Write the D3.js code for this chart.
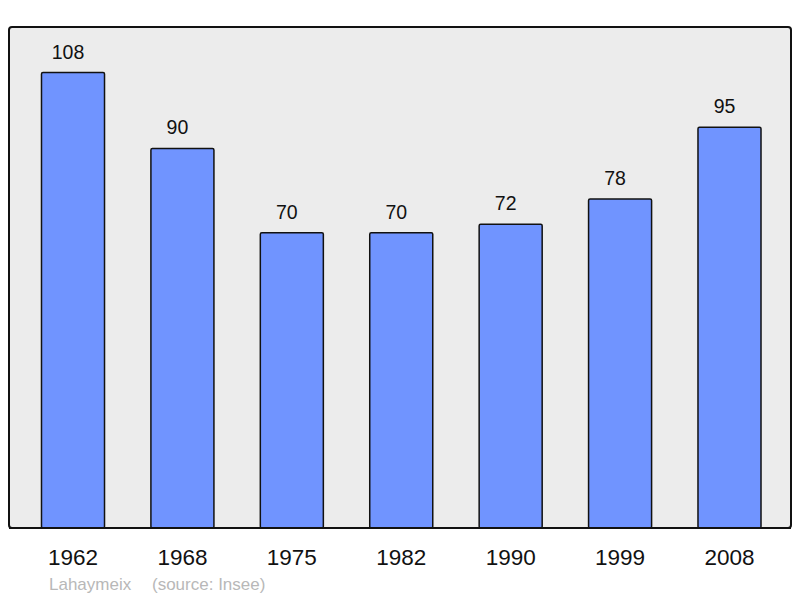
<!DOCTYPE html>
<html><head><meta charset="utf-8">
<script src="https://cdn.jsdelivr.net/npm/d3@7"></script>
<style>body{margin:0;background:#fff}svg{display:block}</style>
</head><body>
<script>
const years = ["1962","1968","1975","1982","1990","1999","2008"];
const population = [108,90,70,70,72,78,95];
const placeName = "Lahaymeix";
const sourceText = "(source: Insee)";

const W = 800, H = 598;
const frame = {x0: 9, y0: 27, x1: 791, y1: 528};
const svg = d3.select("body").append("svg").attr("width", W).attr("height", H);

svg.append("rect").attr("x", frame.x0).attr("y", frame.y0)
  .attr("width", frame.x1 - frame.x0).attr("height", frame.y1 - frame.y0)
  .attr("rx", 3).attr("fill", "#ececec").attr("stroke", "#111").attr("stroke-width", 2);

const x = d3.scaleBand().domain(years).range([18.3, 784.2]).paddingInner(0.424).paddingOuter(0.212);
const y = d3.scaleLinear().domain([0, 108 * 1.1]).range([frame.y1, frame.y0]);

const data = years.map((yr, i) => ({yr, v: population[i]}));

svg.selectAll("rect.bar").data(data).enter().append("rect").attr("class", "bar")
  .attr("x", d => x(d.yr)).attr("y", d => y(d.v))
  .attr("width", x.bandwidth()).attr("height", d => frame.y1 - y(d.v))
  .attr("rx", 1.5)
  .attr("fill", "#7094ff").attr("stroke", "#111").attr("stroke-width", 1.5);

svg.append("line").attr("x1", frame.x0).attr("x2", frame.x1).attr("y1", frame.y1).attr("y2", frame.y1)
  .attr("stroke", "#111").attr("stroke-width", 2);

svg.selectAll("text.val").data(data).enter().append("text").attr("class", "val")
  .attr("x", d => x(d.yr) + x.bandwidth() / 2 - 5).attr("y", d => y(d.v) - 14)
  .attr("text-anchor", "middle").attr("font-family", "Liberation Sans, Arial, sans-serif")
  .attr("font-size", 19.5).attr("fill", "#111").text(d => d.v);

const xAxis = d3.axisBottom(x).tickSize(0).tickPadding(0);
const ax = svg.append("g").attr("transform", `translate(0,${frame.y1 + 36.5})`).call(xAxis);
ax.select(".domain").remove();
ax.selectAll("text").attr("dy", 0).attr("font-family", "Liberation Sans, Arial, sans-serif")
  .attr("font-size", 22.5).attr("fill", "#111");

svg.append("text").attr("x", 49).attr("y", 590).attr("font-family", "Liberation Sans, Arial, sans-serif")
  .attr("font-size", 17).attr("fill", "#b8b8b8").text(placeName);
svg.append("text").attr("x", 152).attr("y", 590).attr("font-family", "Liberation Sans, Arial, sans-serif")
  .attr("font-size", 17).attr("fill", "#b8b8b8").text(sourceText);
</script>
</body></html>
